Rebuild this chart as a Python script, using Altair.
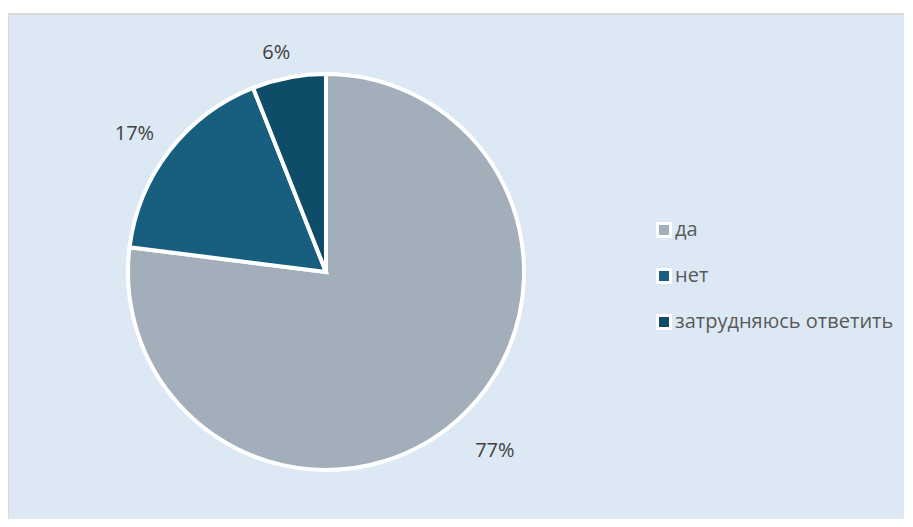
import altair as alt
import pandas as pd

categories = ["да", "нет", "затрудняюсь ответить"]
values = [77, 17, 6]
labels = ["77%", "17%", "6%"]
colors = ["#A2AEB9", "#175E7F", "#0F4C68"]

df = pd.DataFrame({"cat": categories, "val": values, "lab": labels, "order": [0, 1, 2]})

W, H = 896, 505
cx, cy = 318, 258

bg = alt.Chart(df).mark_rect(fill="#DCE9F5", stroke="#D9D9D9", strokeWidth=2).encode(
    x=alt.value(0), x2=alt.value(W + 20), y=alt.value(0), y2=alt.value(H + 20)
)

arcs = alt.Chart(df).mark_arc(outerRadius=198, stroke="white", strokeWidth=4).encode(
    theta=alt.Theta("val:Q", stack=True),
    order=alt.Order("order:Q"),
    x=alt.value(cx),
    y=alt.value(cy),
    color=alt.Color(
        "cat:N",
        scale=alt.Scale(domain=categories, range=colors),
        sort=categories,
        legend=alt.Legend(
            title=None,
            orient="none",
            legendX=646,
            legendY=206,
            symbolType="square",
            symbolSize=169,
            symbolStrokeColor="white",
            symbolStrokeWidth=3,
            labelFontSize=20,
            labelFont="Open Sans",
            labelColor="#595959",
            labelLimit=0,
            rowPadding=20,
            labelOffset=1,
        ),
    ),
)

text = (
    alt.Chart(df)
    .transform_window(cum="sum(val)", sort=[alt.SortField("order")], frame=[None, 0])
    .transform_joinaggregate(tot="sum(val)")
    .transform_calculate(
        mid="(datum.cum - datum.val / 2) / datum.tot * 2 * PI - 0.035",
        rad="220 + 20 * abs(sin(datum.mid)) + (cos(datum.mid) < 0 ? 12 : 0)",
    )
    .mark_text(fontSize=20, font="Open Sans", color="#404040")
    .encode(
        x=alt.value(cx),
        y=alt.value(cy),
        theta=alt.Theta("mid:Q", scale=None, stack=None),
        radius=alt.Radius("rad:Q", scale=None),
        text="lab:N",
    )
)

chart = (bg + arcs + text).properties(
    width=W,
    height=H,
    padding={"left": 0, "top": 6, "right": 0, "bottom": 0},
    autosize=alt.AutoSizeParams(type="none"),
).configure_view(stroke=None).configure(background="white")

chart.save("out.html", embed_options={"renderer": "svg", "actions": False})
